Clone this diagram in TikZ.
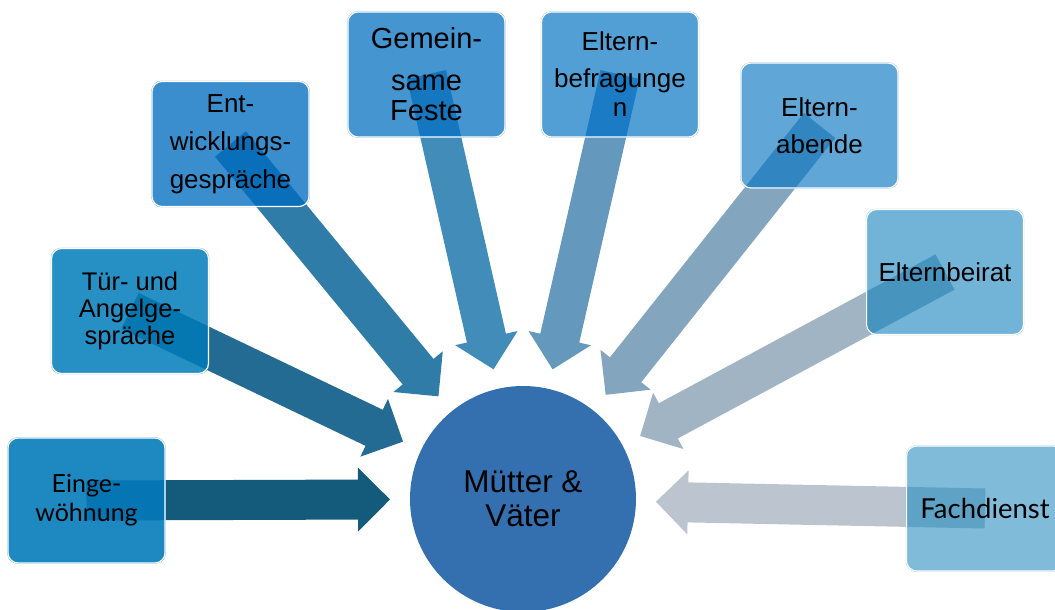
\documentclass[tikz,border=0pt]{standalone}
\usepackage{fontspec}
\setmainfont{Liberation Sans}
\newfontfamily\altfont{Lato}
\usetikzlibrary{calc}
\pgfdeclarelayer{arrowlayer}
\pgfdeclarelayer{filllayer}
\pgfdeclarelayer{overlayer}
\pgfsetlayers{arrowlayer,filllayer,overlayer,main}
\definecolor{cA}{HTML}{1E88C0}\definecolor{oA}{HTML}{0575B3}\definecolor{aA}{HTML}{145A7A}
\definecolor{cB}{HTML}{268FC4}\definecolor{oB}{HTML}{0578B2}\definecolor{aB}{HTML}{236B92}
\definecolor{cC}{HTML}{3B8ECE}\definecolor{oC}{HTML}{0A6FBA}\definecolor{aC}{HTML}{307CA8}
\definecolor{cD}{HTML}{4595D0}\definecolor{oD}{HTML}{1477C0}\definecolor{aD}{HTML}{428CBA}
\definecolor{cE}{HTML}{529FD5}\definecolor{oE}{HTML}{1B7BC4}\definecolor{aE}{HTML}{6499BD}
\definecolor{cF}{HTML}{60A6D6}\definecolor{oF}{HTML}{3185C0}\definecolor{aF}{HTML}{83A5BD}
\definecolor{cG}{HTML}{71B4D8}\definecolor{oG}{HTML}{4795BE}\definecolor{aG}{HTML}{A1B4C3}
\definecolor{cH}{HTML}{80BBDA}\definecolor{oH}{HTML}{5EA2C6}\definecolor{aH}{HTML}{BCC5CF}
\definecolor{cM}{HTML}{3470AF}
\tikzset{
  box/.style={rectangle, rounded corners=10pt, minimum width=157pt, minimum height=125pt,
    inner sep=0pt, draw=white, line width=1.2pt, align=center, text=black},
  hub/.style={circle, minimum size=226pt, inner sep=0pt, fill=cM, align=center, text=black}
}
% #1 start node, #2 tip coordinate, #3 colour
\newcommand\blockarrow[3]{%
  \path (#1.center) coordinate (s) (#2) coordinate (t) ($(t)!32pt!(s)$) coordinate (h);
  \fill[#3] ($(s)!20pt!90:(t)$) -- ($(h)!20pt!90:(t)$) -- ($(h)!32pt!90:(t)$) -- (t)
    -- ($(h)!32pt!-90:(t)$) -- ($(h)!20pt!-90:(t)$) -- ($(s)!20pt!-90:(t)$) -- cycle;}
\newcommand\connect[5]{% #1 node, #2 tip name, #3 arrow col, #4 box col, #5 overlap col
  \coordinate (#2) at ($(m.center)!133pt!(#1.center)$);
  \begin{pgfonlayer}{arrowlayer}\blockarrow{#1}{#2}{#3}\end{pgfonlayer}
  \begin{pgfonlayer}{filllayer}\fill[#4, rounded corners=10pt] (#1.south west) rectangle (#1.north east);\end{pgfonlayer}
  \begin{pgfonlayer}{overlayer}\begin{scope}
    \clip[rounded corners=10pt] (#1.south west) rectangle (#1.north east);
    \blockarrow{#1}{#2}{#5}\end{scope}\end{pgfonlayer}}
\begin{document}
\begin{tikzpicture}[x=1pt,y=-1pt]
\useasboundingbox (0,0) rectangle (1055,610);
\node[hub, font=\fontsize{31.5}{34}\selectfont] (m) at (523,499) {Mütter \&\\Väter};
\node[box, font=\altfont\fontsize{25}{29}\selectfont] (b1) at (86.5,500.5) {Einge-\\wöhnung};
\node[box, font=\fontsize{25.5}{27}\selectfont] (b2) at (130,311) {Tür- und\\Angelge-\\spräche};
\node[box, font=\fontsize{26}{38}\selectfont] (b3) at (230.5,144) {Ent-\\wicklungs-\\gespräche};
\node[box, font=\fontsize{29}{30}\selectfont] (b4) at (426.5,74.5) {Gemein-\\[12pt]same\\Feste};
\node[box, font=\fontsize{26}{29}\selectfont] (b5) at (620,74.5) {Eltern-\\[8pt]befragunge\\n};
\node[box, font=\fontsize{26}{37}\selectfont] (b6) at (819.5,125.5) {Eltern-\\abende};
\node[box, font=\fontsize{26}{30}\selectfont] (b7) at (945,272) {Elternbeirat};
\node[box, font=\altfont\fontsize{27.5}{30}\selectfont] (b8) at (985,508.5) {Fachdienst};
\connect{b1}{t1}{aA}{cA}{oA}
\connect{b2}{t2}{aB}{cB}{oB}
\connect{b3}{t3}{aC}{cC}{oC}
\connect{b4}{t4}{aD}{cD}{oD}
\connect{b5}{t5}{aE}{cE}{oE}
\connect{b6}{t6}{aF}{cF}{oF}
\connect{b7}{t7}{aG}{cG}{oG}
\connect{b8}{t8}{aH}{cH}{oH}
\end{tikzpicture}
\end{document}
